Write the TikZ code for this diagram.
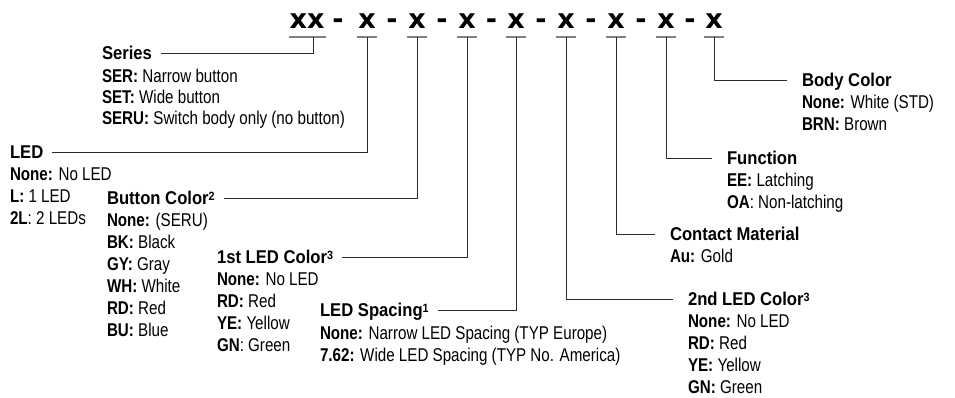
\documentclass[tikz,border=0pt]{standalone}
\usepackage{fontspec}
\setmainfont{Liberation Sans}[FakeStretch=0.82]
\newfontfamily\ttlfont{Liberation Sans}[FakeStretch=0.9]
\newfontfamily\codefont{DejaVu Sans}
\definecolor{linecol}{HTML}{2A2A2A}
\definecolor{ulcol}{HTML}{808080}
\newcommand{\supnum}[1]{\raisebox{4pt}{\fontsize{12}{12}\selectfont\bfseries #1}}
\begin{document}
\begin{tikzpicture}[x=1pt,y=-1pt,
  every node/.style={inner sep=0pt, outer sep=0pt},
  ttl/.style={anchor=west, font=\ttlfont\fontsize{18.5}{20}\selectfont\bfseries, text height=13pt, text depth=0pt},
  opt/.style={anchor=west, font=\fontsize{18.5}{20}\selectfont, text height=13pt, text depth=0pt},
  code/.style={font=\codefont\fontsize{27}{30}\selectfont\bfseries, anchor=base},
  uline/.style={draw=ulcol, line width=2pt},
  conn/.style={draw=linecol, line width=1pt},
  connL/.style={conn, shorten >=9pt},
  connR/.style={conn, shorten >=15pt}]

\useasboundingbox (0,0) rectangle (955,397);

% code row
\node[code] (c0) at (307,28) {xx};
\node[code] (d1) at (338,28) {-};
\node[code] (c1) at (367,28) {x};
\node[code] (d2) at (392,28) {-};
\node[code] (c2) at (417,28) {x};
\node[code] (d3) at (442,28) {-};
\node[code] (c3) at (467,28) {x};
\node[code] (d4) at (491.5,28) {-};
\node[code] (c4) at (516,28) {x};
\node[code] (d5) at (541,28) {-};
\node[code] (c5) at (566,28) {x};
\node[code] (d6) at (591,28) {-};
\node[code] (c6) at (616,28) {x};
\node[code] (d7) at (641,28) {-};
\node[code] (c7) at (666,28) {x};
\node[code] (d8) at (690,28) {-};
\node[code] (c8) at (714,28) {x};

% underlines
\draw[uline] (288.5,37) -- (325.5,37);
\foreach \p in {367,417,467,516,566,616,666,714}{
  \draw[uline] (\p-10,37) -- (\p+10,37);
}
\coordinate (u0) at (313,37);
\coordinate (u1) at (367,37);
\coordinate (u2) at (417,37);
\coordinate (u3) at (467,37);
\coordinate (u4) at (516,37);
\coordinate (u5) at (566,37);
\coordinate (u6) at (616,37);
\coordinate (u7) at (666,37);
\coordinate (u8) at (714,37);

% Series
\node[ttl] (series) at (102,53) {Series};
\node[opt] (series1) at (102,76) {\textbf{SER:} Narrow button};
\node[opt] (series2) at (102,97) {\textbf{SET:} Wide button};
\node[opt] (series3) at (102,118) {\textbf{SERU:} Switch body only (no button)};

% LED
\node[ttl] (led) at (10,152) {LED};
\node[opt] (led1) at (10,174) {\textbf{None:} No LED};
\node[opt] (led2) at (10,196) {\textbf{L:} 1 LED};
\node[opt] (led3) at (10,218) {\textbf{2L}: 2 LEDs};

% Button color
\node[ttl] (btn) at (107,198) {Button Color\supnum{2}};
\node[opt] (btn1) at (107,220) {\textbf{None:} (SERU)};
\node[opt] (btn2) at (107,242) {\textbf{BK:} Black};
\node[opt] (btn3) at (107,264) {\textbf{GY:} Gray};
\node[opt] (btn4) at (107,286) {\textbf{WH:} White};
\node[opt] (btn5) at (107,308) {\textbf{RD:} Red};
\node[opt] (btn6) at (107,330) {\textbf{BU:} Blue};

% 1st LED color
\node[ttl] (la) at (217,257) {1st LED Color\supnum{3}};
\node[opt] (la1) at (217,279) {\textbf{None:} No LED};
\node[opt] (la2) at (217,301) {\textbf{RD:} Red};
\node[opt] (la3) at (217,323) {\textbf{YE:} Yellow};
\node[opt] (la4) at (217,345) {\textbf{GN}: Green};

% LED spacing
\node[ttl] (sp) at (320,310) {LED Spacing\supnum{1}};
\node[opt] (sp1) at (320,333) {\textbf{None:} Narrow LED Spacing (TYP Europe)};
\node[opt] (sp2) at (320,355) {\textbf{7.62:} Wide LED Spacing (TYP No. America)};

% 2nd LED color
\node[ttl] (lb) at (688,299) {2nd LED Color\supnum{3}};
\node[opt] (lb1) at (688,321) {\textbf{None:} No LED};
\node[opt] (lb2) at (688,343) {\textbf{RD:} Red};
\node[opt] (lb3) at (688,365) {\textbf{YE:} Yellow};
\node[opt] (lb4) at (688,387) {\textbf{GN:} Green};

% Contact material
\node[ttl] (cm) at (670,234) {Contact Material};
\node[opt] (cm1) at (670,256) {\textbf{Au:} Gold};

% Function
\node[ttl] (fn) at (727,158) {Function};
\node[opt] (fn1) at (727,180) {\textbf{EE:} Latching};
\node[opt] (fn2) at (727,202) {\textbf{OA}: Non-latching};

% Body color
\node[ttl] (bc) at (802,80) {Body Color};
\node[opt] (bc1) at (802,102) {\textbf{None:} White (STD)};
\node[opt] (bc2) at (802,124) {\textbf{BRN:} Brown};

% connectors
\draw[connL] (u0) |- (series.east);
\draw[connL] (u1) |- (led.east);
\draw[connL] (u2) |- (btn.east);
\draw[connL] (u3) |- (la.east);
\draw[connL] (u4) |- (sp.east);
\draw[connR] (u5) |- (lb.west);
\draw[connR] (u6) |- (cm.west);
\draw[connR] (u7) |- (fn.west);
\draw[connR] (u8) |- (bc.west);
\end{tikzpicture}
\end{document}
